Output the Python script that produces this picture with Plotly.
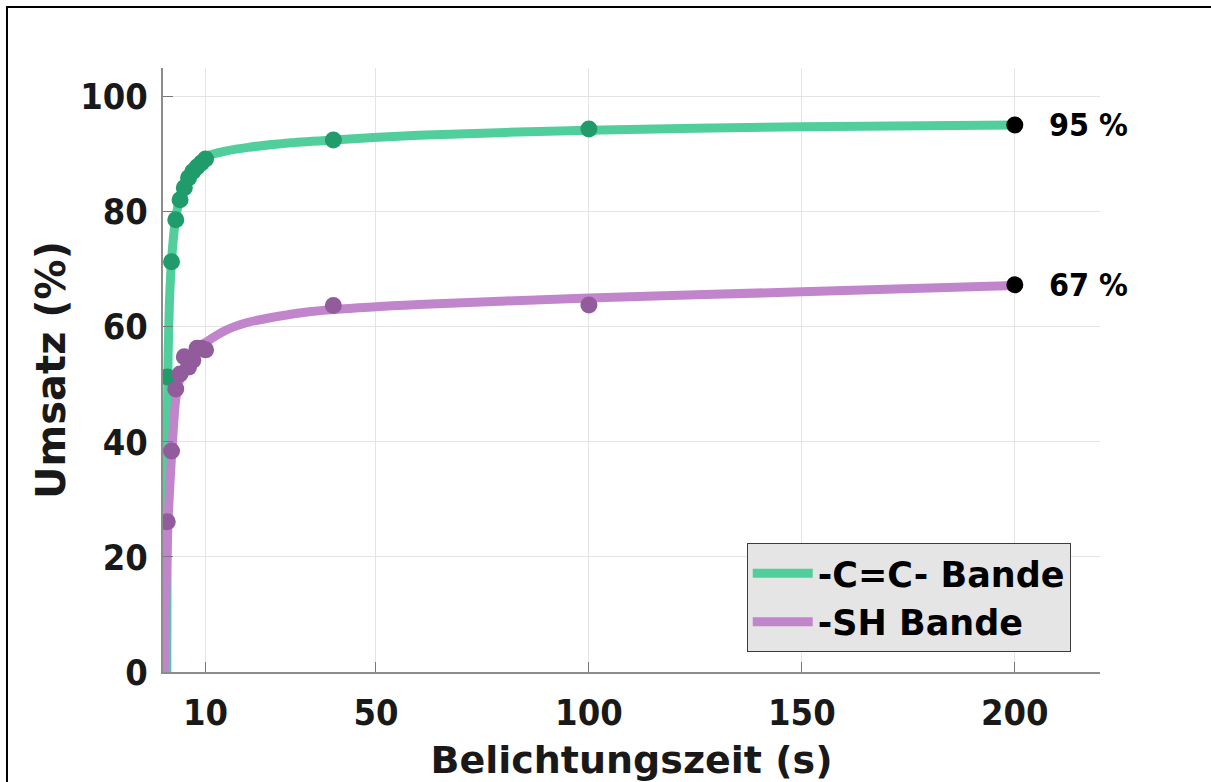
import plotly.graph_objects as go

# measured points
t_pts = [1, 2, 3, 4, 5, 6, 7, 8, 9, 10, 40, 100]
cc_pts = [51.3, 71.3, 78.6, 82.1, 84.2, 85.9, 87.0, 87.8, 88.5, 89.2, 92.5, 94.4]
sh_pts = [26.1, 38.4, 49.2, 51.8, 54.8, 53.0, 54.2, 56.3, 56.3, 56.0, 63.7, 63.8]

# fitted curves
cc_fit_t = [0.9, 1.0, 1.2, 1.5, 2, 3, 4, 5, 7, 10, 15, 20, 30, 40, 60, 100, 150, 200]
cc_fit_y = [0, 40, 55, 64, 71.5, 79, 82.5, 85, 87.5, 89.6, 90.6, 91.2, 92.0, 92.5, 93.3, 94.2, 94.8, 95.1]
sh_fit_t = [0.3, 0.6, 1.0, 1.3, 2, 3, 4, 6, 8, 10, 15, 20, 30, 40, 60, 100, 150, 200]
sh_fit_y = [0, 12, 22, 28, 37.5, 47.5, 51, 54.3, 56.2, 57.3, 59.5, 60.8, 62.2, 63.0, 63.9, 65.0, 66.1, 67.2]

# end values
end_t = [200, 200]
end_y = [95.1, 67.3]

x_ticks = [10, 50, 100, 150, 200]
y_ticks = [0, 20, 40, 60, 80, 100]

GREEN_LINE = "rgb(80,206,155)"
GREEN_MARK = "rgb(32,155,107)"
PURPLE_LINE = "rgb(193,133,204)"
PURPLE_MARK = "rgb(146,92,156)"
TXT = "rgb(25,25,25)"

fig = go.Figure()
fig.add_trace(go.Scatter(x=cc_fit_t, y=cc_fit_y, mode="lines", name="-C=C- Bande",
                         line=dict(color=GREEN_LINE, width=9, shape="spline", smoothing=0.6)))
fig.add_trace(go.Scatter(x=sh_fit_t, y=sh_fit_y, mode="lines", name="-SH Bande",
                         line=dict(color=PURPLE_LINE, width=9, shape="spline", smoothing=0.6)))
fig.add_trace(go.Scatter(x=t_pts, y=cc_pts, mode="markers", showlegend=False,
                         marker=dict(color=GREEN_MARK, size=17)))
fig.add_trace(go.Scatter(x=t_pts, y=sh_pts, mode="markers", showlegend=False,
                         marker=dict(color=PURPLE_MARK, size=17)))
fig.add_trace(go.Scatter(x=end_t, y=end_y, mode="markers", showlegend=False,
                         marker=dict(color="black", size=17)))

for t, v in zip(end_t, end_y):
    fig.add_annotation(x=t, y=v, text=f"{round(v)} %", showarrow=False,
                       xanchor="left", xshift=32,
                       font=dict(family="DejaVu Sans Condensed", size=32, color="black", weight="bold"))

# outer frame
fig.add_shape(type="rect", xref="paper", yref="paper", x0=-0.1665, y0=-0.3, x1=1.3, y1=1.101,
              line=dict(color="black", width=2), layer="above")

fig.update_layout(
    width=1211, height=782,
    margin=dict(l=163, r=111, t=68, b=110),
    paper_bgcolor="white", plot_bgcolor="white",
    font=dict(family="DejaVu Sans Condensed", color=TXT),
    showlegend=True,
    legend=dict(x=0.623, y=0.033, xanchor="left", yanchor="bottom",
                bgcolor="rgb(229,229,229)", bordercolor="rgb(60,60,60)", borderwidth=1,
                font=dict(family="DejaVu Sans", size=35, color="black", weight="bold"),
                tracegroupgap=0, itemwidth=60),
    xaxis=dict(range=[0, 220], tickvals=x_ticks, ticks="inside", ticklen=10, automargin=False,
               tickcolor="rgb(120,120,120)", showline=True, linecolor="rgb(140,140,140)", linewidth=2,
               showgrid=True, gridcolor="rgb(228,228,228)", gridwidth=1, zeroline=False,
               tickfont=dict(family="DejaVu Sans Condensed", size=36, color=TXT, weight="bold"),
               ticklabelstandoff=8,
               title=dict(text="Belichtungszeit (s)", standoff=21,
                          font=dict(family="DejaVu Sans", size=38, color=TXT, weight="bold"))),
    yaxis=dict(range=[0, 105], tickvals=y_ticks, ticks="inside", ticklen=10, automargin=False,
               tickcolor="rgb(120,120,120)", showline=True, linecolor="rgb(140,140,140)", linewidth=2,
               showgrid=True, gridcolor="rgb(228,228,228)", gridwidth=1, zeroline=False,
               tickfont=dict(family="DejaVu Sans Condensed", size=36, color=TXT, weight="bold"),
               ticklabelstandoff=6,
               title=dict(text="Umsatz (%)", standoff=2,
                          font=dict(family="DejaVu Sans", size=40, color=TXT, weight="bold"))),
)

fig.write_html("out.html")
